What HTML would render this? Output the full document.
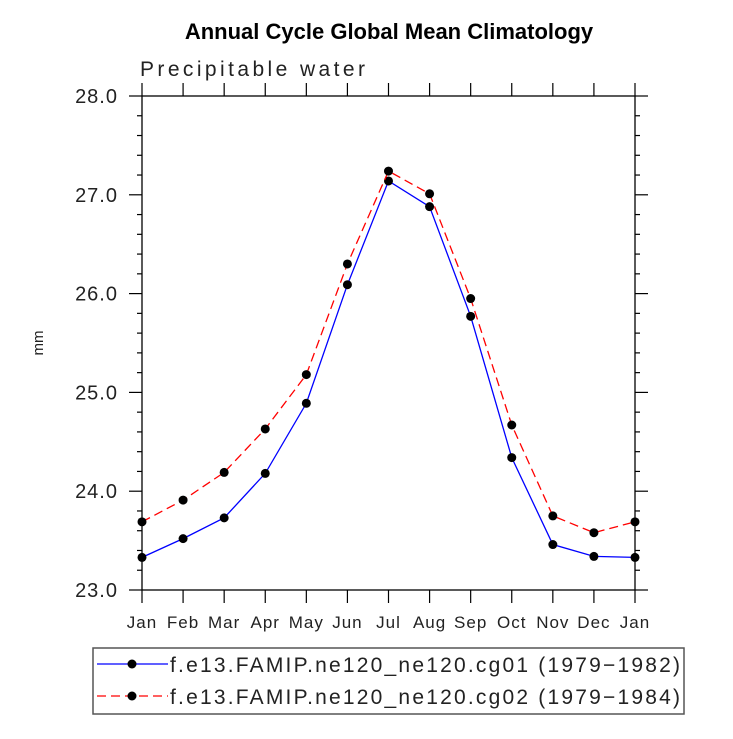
<!DOCTYPE html>
<html><head><meta charset="utf-8"><style>
body{margin:0;background:#fff;width:733px;height:734px;overflow:hidden}
svg text{font-family:"Liberation Sans",sans-serif}
</style></head><body>
<svg id="chart" width="733" height="734" xmlns="http://www.w3.org/2000/svg">
<text x="389" y="39" text-anchor="middle" font-size="22" font-weight="bold" fill="#000">Annual Cycle Global Mean Climatology</text>
<text x="140" y="76" font-size="21" fill="#222" textLength="225" lengthAdjust="spacing">Precipitable water</text>
<text x="43" y="343" font-size="15" fill="#222" text-anchor="middle" transform="rotate(-90 43 343)">mm</text>
<g id="axes"></g>
<g id="series"></g>
<g>
<rect x="93" y="648" width="591" height="66" fill="none" stroke="#555" stroke-width="1.5"/>
<line x1="97" y1="664" x2="168" y2="664" stroke="#0000ff" stroke-width="1.3"/>
<circle cx="132" cy="664" r="4.5" fill="#000"/>
<text x="170" y="672" font-size="21" fill="#222" textLength="510" lengthAdjust="spacing">f.e13.FAMIP.ne120_ne120.cg01 (1979−1982)</text>
<line x1="97" y1="696" x2="168" y2="696" stroke="#ff0000" stroke-width="1.3" stroke-dasharray="9,5"/>
<circle cx="132" cy="696" r="4.5" fill="#000"/>
<text x="170" y="704" font-size="21" fill="#222" textLength="510" lengthAdjust="spacing">f.e13.FAMIP.ne120_ne120.cg02 (1979−1984)</text>
</g>
</svg>
<script>
const months=["Jan","Feb","Mar","Apr","May","Jun","Jul","Aug","Sep","Oct","Nov","Dec","Jan"];
const cg01=[23.33,23.52,23.73,24.18,24.89,26.09,27.14,26.88,25.77,24.34,23.46,23.34,23.33];
const cg02=[23.69,23.91,24.19,24.63,25.18,26.30,27.24,27.01,25.95,24.67,23.75,23.58,23.69];
const yTicks=[23.0,24.0,25.0,26.0,27.0,28.0];
const NS="http://www.w3.org/2000/svg";
const L=142,R=635,T=96,B=590,ymin=23,ymax=28;
const xs=i=>L+i*(R-L)/(months.length-1);
const ys=v=>B-(v-ymin)/(ymax-ymin)*(B-T);
function mk(tag,at,parent){const e=document.createElementNS(NS,tag);for(const k in at)e.setAttribute(k,at[k]);parent.appendChild(e);return e;}
const ax=document.getElementById('axes');
const frame=mk('rect',{x:L,y:T,width:R-L,height:B-T,fill:'none',stroke:'#000','stroke-width':1.3},ax);


months.forEach((m,i)=>{const x=xs(i);
mk('line',{x1:x,y1:B,x2:x,y2:B+13,stroke:'#000','stroke-width':1.2},ax);
mk('line',{x1:x,y1:T,x2:x,y2:T-13,stroke:'#000','stroke-width':1.2},ax);
const t=mk('text',{x:x,y:B+38,'text-anchor':'middle','font-size':17,fill:'#222','letter-spacing':1},ax);
t.textContent=m;

});
for(let v=ymin;v<=ymax+1e-6;v+=0.2){const y=ys(v);const major=Math.abs(v-Math.round(v))<1e-6;const len=major?13:5;
mk('line',{x1:L,y1:y,x2:L-len,y2:y,stroke:'#000','stroke-width':1.2},ax);
mk('line',{x1:R,y1:y,x2:R+len,y2:y,stroke:'#000','stroke-width':1.2},ax);}
yTicks.forEach(v=>{const t=mk('text',{x:118,y:ys(v)+7,'text-anchor':'end','font-size':20,fill:'#222','letter-spacing':1},ax);
t.textContent=v.toFixed(1);

});
const sg=document.getElementById('series');
[[cg01,'#0000ff','none','series-cg01'],[cg02,'#ff0000','9,5','series-cg02']].forEach(([d,c,da,n])=>{
const p=mk('polyline',{points:d.map((v,i)=>xs(i)+','+ys(v)).join(' '),fill:'none',stroke:c,'stroke-width':1.3,'stroke-dasharray':da},sg);


d.forEach((v,i)=>{const c2=mk('circle',{cx:xs(i),cy:ys(v),r:4.5,fill:'#000'},sg);

});});
</script>
</body></html>
